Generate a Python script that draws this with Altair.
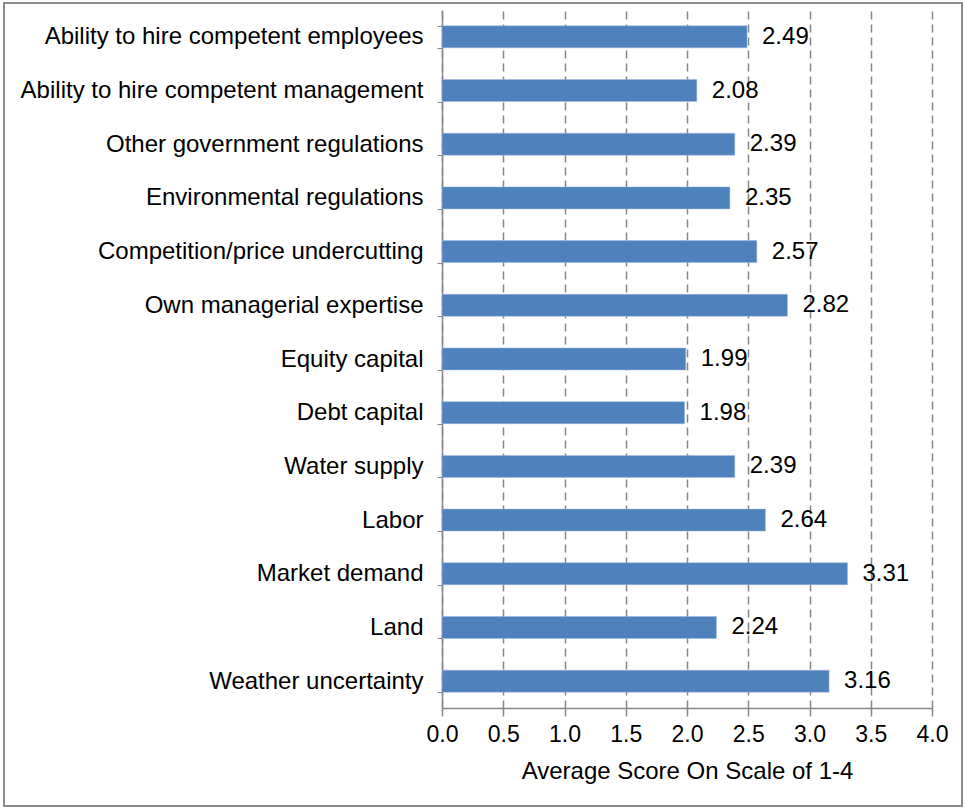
import altair as alt
import pandas as pd

categories = [
    "Ability to hire competent employees",
    "Ability to hire competent management",
    "Other government regulations",
    "Environmental regulations",
    "Competition/price undercutting",
    "Own managerial expertise",
    "Equity capital",
    "Debt capital",
    "Water supply",
    "Labor",
    "Market demand",
    "Land",
    "Weather uncertainty",
]
scores = [2.49, 2.08, 2.39, 2.35, 2.57, 2.82, 1.99, 1.98, 2.39, 2.64, 3.31, 2.24, 3.16]
x_ticks = [0.0, 0.5, 1.0, 1.5, 2.0, 2.5, 3.0, 3.5, 4.0]

df = pd.DataFrame({"category": categories, "score": scores})
df["label"] = [f"{v:.2f}" for v in scores]

FONT = "Liberation Sans"

y_enc = alt.Y(
    "category:N",
    sort=categories,
    scale=alt.Scale(paddingInner=0.59, paddingOuter=0.295),
    axis=alt.Axis(
        title=None,
        labelFontSize=24,
        labelColor="#000000",
        labelFont=FONT,
        labelPadding=14,
        labelLimit=440,
        domainColor="#868686",
        domainWidth=1.5,
        tickColor="#868686",
        tickBand="extent",
        tickSize=5,
        grid=False,
    ),
)

x_enc = alt.X(
    "score:Q",
    scale=alt.Scale(domain=[0, 4], nice=False),
    axis=alt.Axis(
        title="Average Score On Scale of 1-4",
        titleFontSize=24,
        titleFont=FONT,
        titleFontWeight="normal",
        titleColor="#000000",
        titlePadding=13,
        values=x_ticks,
        format=".1f",
        labelFontSize=23,
        labelFont=FONT,
        labelColor="#000000",
        labelPadding=7,
        labelFlush=False,
        labelOverlap=False,
        domainColor="#868686",
        domainWidth=1.5,
        tickColor="#868686",
        tickSize=8,
        tickWidth=1.5,
        grid=True,
        gridColor="#868686",
        gridDash=[8, 5],
        gridWidth=1.5,
    ),
)

bars = alt.Chart(df).mark_bar(color="#4F81BD", stroke="#9DB9DC", strokeWidth=0.5).encode(
    x=x_enc, y=y_enc
)

text = alt.Chart(df).mark_text(
    align="left", baseline="middle", dx=15, fontSize=24, font=FONT, color="#000000"
).encode(
    x=alt.X("score:Q"), y=alt.Y("category:N", sort=categories), text="label:N"
)

frame = alt.Chart(df).mark_rect(
    fill=None, stroke="#8C8C8C", strokeWidth=1.5, clip=False
).encode(
    x=alt.value(-438), x2=alt.value(520), y=alt.value(-7), y2=alt.value(796)
)

chart = (
    alt.layer(frame, bars, text)
    .properties(
        width=490,
        height=698,
        padding={"left": 442, "top": 10, "right": 33, "bottom": 102},
        autosize=alt.AutoSizeParams(type="none"),
        background="#FFFFFF",
    )
    .configure_view(stroke=None)
)

chart.save("out.html", embed_options={"renderer": "svg", "actions": False})
